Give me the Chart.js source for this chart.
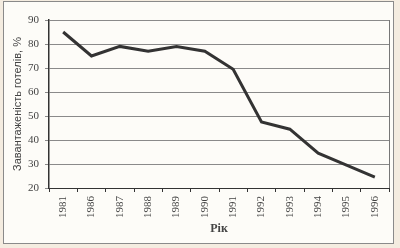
<!DOCTYPE html>
<html>
<head>
<meta charset="utf-8">
<script src="https://cdn.jsdelivr.net/npm/chart.js@4"></script>
<style>
  body { margin: 0; background: #f4ece0; }
  #wrap { width: 400px; height: 248px; }
</style>
</head>
<body>
<div id="wrap"><canvas id="chart" width="400" height="248"></canvas></div>
<script>
const years = ["1981", "1986", "1987", "1988", "1989", "1990", "1991", "1992", "1993", "1994", "1995", "1996"];
const occupancy = [85, 75, 79, 77, 79, 77, 69.5, 47.5, 44.5, 34.5, 29.5, 24.5];
const yTicks = [20, 30, 40, 50, 60, 70, 80, 90];

// frame round the whole figure and right edge of the plot
const framePlugin = {
  id: "frame",
  beforeDraw(chart) {
    const ctx = chart.ctx;
    ctx.save();
    ctx.fillStyle = "#fdfcf8";
    ctx.fillRect(3, 1, 391, 243);
    ctx.strokeStyle = "#8a8a8a";
    ctx.lineWidth = 1;
    ctx.strokeRect(3.5, 1.5, 390, 242);
    ctx.restore();
  },
  afterDatasetsDraw(chart) {
    const { ctx, chartArea } = chart;
    ctx.save();
    ctx.strokeStyle = "#777";
    ctx.lineWidth = 1;
    ctx.beginPath();
    ctx.moveTo(chartArea.right + 0.5, chartArea.top);
    ctx.lineTo(chartArea.right + 0.5, chartArea.bottom);
    ctx.stroke();
    ctx.restore();
  },
};

new Chart(document.getElementById("chart"), {
  type: "line",
  data: {
    labels: years,
    datasets: [
      {
        data: occupancy,
        borderColor: "#333",
        borderWidth: 3,
        pointRadius: 0,
        tension: 0,
      },
    ],
  },
  options: {
    responsive: false,
    animation: false,
    layout: { padding: { top: 20, right: 11, left: 0, bottom: 0 } },
    plugins: { legend: { display: false }, tooltip: { enabled: false } },
    scales: {
      x: {
        offset: true,
        grid: {
          display: true,
          drawOnChartArea: false,
          offset: true,
          color: "#333",
          tickLength: 4,
        },
        border: { color: "#333", width: 1 },
        ticks: {
          color: "#444",
          font: { family: "Liberation Serif", size: 11 },
          minRotation: 90,
          maxRotation: 90,
          padding: 4,
        },
        title: {
          display: true,
          text: "Рік",
          color: "#444",
          font: { family: "Liberation Serif", size: 12, weight: "bold" },
          padding: { top: 4, bottom: 12 },
        },
        afterFit(scale) { scale.height = 60; },
      },
      y: {
        min: 20,
        max: 90,
        afterBuildTicks(scale) { scale.ticks = yTicks.map((v) => ({ value: v })); },
        grid: { color: "#8a8a8a", tickLength: 4, lineWidth: 1 },
        border: { color: "#333", width: 1.5 },
        ticks: {
          color: "#444",
          font: { family: "Liberation Serif", size: 11 },
          padding: 6,
        },
        title: {
          display: true,
          text: "Завантаженість готелів, %",
          color: "#444",
          font: { family: "Liberation Sans", size: 11 },
          padding: { top: 11, bottom: 2 },
        },
        afterFit(scale) { scale.width = 49; },
      },
    },
  },
  plugins: [framePlugin],
});
</script>
</body>
</html>
